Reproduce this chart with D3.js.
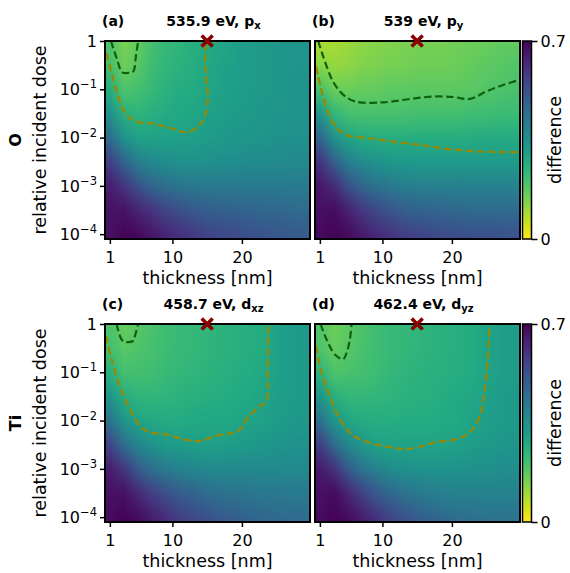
<!DOCTYPE html>
<html><head><meta charset="utf-8">
<script src="https://cdn.jsdelivr.net/npm/d3@7"></script>
<style>body{margin:0;background:#fff}svg{font-family:"DejaVu Sans",sans-serif}</style>
</head><body>
<svg id="chart" width="570" height="573"></svg>
<script>
// ---------- data ----------
const thicknessCenters = [1,3,5,7,9,11,13,15,17,19,21,23,25,27,29];   // nm
const doseExponents = [0,-0.5,-1,-1.5,-2,-2.5,-3,-3.5,-4];            // log10(relative dose)
const xTicks = [1,10,20];
const yTickExps = [0,-1,-2,-3,-4];
const cbTicks = [0,0.7];

const diffA = [
 [.196,.14,.168,.21,.231,.245,.259,.273,.287,.301,.315,.322,.329,.336,.336],
 [.21,.154,.182,.217,.238,.252,.266,.28,.294,.308,.315,.322,.329,.336,.336],
 [.266,.196,.21,.231,.252,.266,.273,.287,.301,.308,.315,.322,.329,.336,.343],
 [.35,.259,.245,.259,.273,.28,.287,.301,.308,.315,.322,.329,.336,.336,.343],
 [.455,.35,.301,.294,.301,.301,.308,.315,.322,.329,.329,.336,.343,.343,.35],
 [.574,.476,.406,.371,.357,.35,.35,.35,.357,.357,.364,.364,.364,.371,.371],
 [.644,.595,.525,.476,.448,.427,.42,.413,.413,.413,.413,.413,.413,.413,.413],
 [.665,.665,.63,.595,.56,.532,.511,.497,.49,.483,.476,.469,.469,.462,.462],
 [.672,.693,.686,.658,.63,.602,.581,.56,.546,.539,.525,.518,.511,.504,.497]
];
const diffB = [
 [.084,.091,.105,.119,.126,.133,.14,.14,.147,.147,.154,.154,.161,.168,.168],
 [.126,.112,.119,.133,.14,.147,.147,.154,.154,.154,.161,.168,.175,.182,.189],
 [.21,.161,.161,.168,.168,.175,.175,.175,.175,.175,.175,.182,.189,.196,.203],
 [.336,.238,.21,.203,.203,.203,.203,.21,.21,.21,.21,.217,.217,.224,.224],
 [.476,.35,.294,.273,.266,.266,.266,.266,.266,.266,.266,.273,.273,.273,.273],
 [.595,.49,.406,.364,.343,.329,.322,.322,.322,.322,.322,.322,.322,.322,.322],
 [.658,.616,.532,.476,.441,.42,.406,.399,.399,.399,.399,.392,.392,.392,.392],
 [.672,.679,.637,.588,.546,.518,.497,.483,.476,.469,.469,.462,.462,.462,.462],
 [.679,.693,.679,.651,.623,.595,.574,.56,.546,.539,.532,.525,.525,.518,.518]
];
const diffC = [
 [.196,.161,.182,.2,.214,.228,.235,.242,.249,.256,.263,.27,.301,.315,.322],
 [.21,.182,.196,.207,.221,.228,.235,.242,.249,.256,.263,.27,.301,.315,.322],
 [.259,.21,.21,.214,.228,.235,.242,.249,.256,.263,.27,.28,.301,.315,.322],
 [.336,.266,.245,.24,.245,.252,.259,.26,.266,.273,.28,.29,.308,.315,.322],
 [.434,.336,.294,.28,.273,.273,.28,.28,.28,.287,.294,.301,.315,.322,.329],
 [.56,.455,.385,.343,.322,.315,.308,.308,.308,.315,.322,.329,.336,.343,.343],
 [.644,.588,.504,.448,.413,.392,.378,.371,.371,.371,.371,.371,.371,.371,.371],
 [.672,.672,.623,.574,.532,.497,.476,.455,.441,.434,.427,.42,.42,.413,.413],
 [.679,.693,.679,.644,.609,.574,.546,.525,.504,.49,.476,.469,.462,.455,.455]
];
const diffD = [
 [.189,.154,.175,.196,.214,.228,.235,.242,.249,.256,.263,.27,.29,.308,.315],
 [.196,.168,.182,.203,.214,.228,.235,.242,.249,.256,.263,.27,.29,.308,.315],
 [.252,.196,.203,.21,.221,.235,.242,.249,.256,.259,.266,.275,.29,.308,.315],
 [.336,.259,.238,.234,.24,.245,.252,.259,.262,.27,.277,.285,.301,.315,.322],
 [.448,.336,.287,.273,.266,.266,.27,.27,.27,.277,.28,.294,.308,.315,.322],
 [.574,.462,.378,.329,.301,.294,.294,.294,.294,.294,.301,.315,.322,.329,.336],
 [.651,.602,.504,.434,.392,.364,.35,.343,.343,.343,.343,.35,.35,.357,.357],
 [.672,.679,.63,.567,.511,.469,.441,.42,.406,.399,.392,.392,.392,.392,.392],
 [.679,.693,.679,.644,.602,.56,.525,.497,.476,.462,.448,.441,.434,.434,.434]
];

// contour lines: [thickness nm, log10 dose]
const greenA = [[1.16,0],[1.96,-0.35],[2.8,-0.65],[3.64,-0.66],[4.36,-0.63],[4.74,-0.32],[5.07,0]];
const oliveA = [[0.52,-0.25],[1.24,-0.66],[2.2,-1.15],[3.4,-1.53],[4.84,-1.67],[7.23,-1.71],[9.64,-1.8],[12.04,-1.89],[13.48,-1.8],[14.53,-1.6],[15.1,-1.22],[14.9,-0.8],[14.7,-0.39],[14.8,0]];
const greenB = [[0.76,0],[1.48,-0.32],[2.9,-0.84],[4.35,-1.11],[6.04,-1.25],[10.1,-1.27],[13.96,-1.2],[17.3,-1.15],[20.2,-1.16],[22.6,-1.2],[25.0,-1.04],[27.4,-0.91],[29.8,-0.8]];
const oliveB = [[0.45,-0.53],[1.1,-0.94],[2.2,-1.49],[3.4,-1.8],[5.07,-1.96],[7.7,-2.01],[12.5,-2.1],[16.4,-2.17],[19.7,-2.24],[24.5,-2.29],[29.8,-2.3]];
const greenC = [[1.96,0],[2.68,-0.32],[3.16,-0.37],[4.36,-0.35],[4.6,-0.25],[5.07,0]];
const oliveC = [[0.45,-0.25],[1.24,-0.73],[2.44,-1.28],[3.88,-1.76],[5.32,-2.11],[6.76,-2.24],[9.16,-2.29],[12.04,-2.4],[13.96,-2.42],[16.36,-2.31],[19.47,-2.21],[20.9,-1.93],[22.6,-1.7],[23.55,-1.59],[23.7,-1.01],[23.8,0]];
const greenD = [[1.1,0],[1.96,-0.32],[3.16,-0.63],[4.36,-0.73],[4.84,-0.6],[5.32,-0.32],[5.56,0]];
const oliveD = [[0.42,-0.46],[1.24,-1.01],[2.44,-1.49],[3.88,-1.97],[5.8,-2.31],[8.2,-2.46],[11.08,-2.55],[13.5,-2.59],[15.9,-2.52],[17.8,-2.44],[20.2,-2.4],[22.6,-2.24],[24.0,-1.9],[24.75,-1.35],[25.2,-0.67],[25.4,0]];

const markerThickness = 15, markerDose = 1;

const panels = [
 {tag:'(a)', energy:'535.9 eV, ', orb:'p', sub:'x', vals:diffA, green:greenA, olive:oliveA, left:105, top:41, row:0, col:0},
 {tag:'(b)', energy:'539 eV, ', orb:'p', sub:'y', vals:diffB, green:greenB, olive:oliveB, left:315, top:41, row:0, col:1},
 {tag:'(c)', energy:'458.7 eV, ', orb:'d', sub:'xz', vals:diffC, green:greenC, olive:oliveC, left:105, top:324, row:1, col:0},
 {tag:'(d)', energy:'462.4 eV, ', orb:'d', sub:'yz', vals:diffD, green:greenD, olive:oliveD, left:315, top:324, row:1, col:1}
];
const rowNames = ['O','Ti'];

// ---------- drawing ----------
const W = 205, H = 198;
const svg = d3.select('#chart');
const color = d3.scaleSequential(d3.interpolateViridis).domain([0.7, 0]);
const defs = svg.append('defs');

function makeImage(vals){
  const cv = document.createElement('canvas');
  cv.width = vals[0].length; cv.height = vals.length;
  const ctx = cv.getContext('2d');
  vals.forEach((row,j)=>row.forEach((v,i)=>{ctx.fillStyle=color(v);ctx.fillRect(i,j,1,1);}));
  return cv.toDataURL();
}

const dt = thicknessCenters[1]-thicknessCenters[0];
const de = doseExponents[0]-doseExponents[1];

panels.forEach((p,k)=>{
  const x = d3.scaleLinear().domain([0.3,29.8]).range([p.left,p.left+W]);
  const y = d3.scaleLog().domain([Math.pow(10,-4.1),1]).range([p.top+H,p.top]);
  const cid = 'clip'+k;
  defs.append('clipPath').attr('id',cid).append('rect')
    .attr('x',p.left).attr('y',p.top).attr('width',W).attr('height',H);
  const g = svg.append('g');
  const x0 = x(thicknessCenters[0]-dt/2), x1 = x(thicknessCenters[thicknessCenters.length-1]+dt/2);
  const y0 = y(Math.pow(10,doseExponents[0]+de/2)), y1 = y(Math.pow(10,doseExponents[doseExponents.length-1]-de/2));
  g.append('image').attr('href',makeImage(p.vals))
    .attr('x',x0).attr('y',y0).attr('width',x1-x0).attr('height',y1-y0)
    .attr('preserveAspectRatio','none').attr('clip-path',`url(#${cid})`);
  const line = d3.line().x(d=>x(d[0])).y(d=>y(Math.pow(10,d[1]))).curve(d3.curveCatmullRom.alpha(0.5));
  g.append('path').attr('d',line(p.olive)).attr('fill','none').attr('stroke','#9a8800')
    .attr('stroke-width',2.2).attr('stroke-dasharray','7.5,3.5').attr('clip-path',`url(#${cid})`);
  g.append('path').attr('d',line(p.green)).attr('fill','none').attr('stroke','#0f600f')
    .attr('stroke-width',2.2).attr('stroke-dasharray','7.5,3.5').attr('clip-path',`url(#${cid})`);
  // x axis
  const ax = g.append('g').attr('transform',`translate(0,${p.top+H})`)
    .call(d3.axisBottom(x).tickValues(xTicks).tickSize(5).tickPadding(8).tickFormat(d3.format('d')));
  ax.select('.domain').remove();
  ax.selectAll('line').attr('stroke-width',1.5);
  ax.selectAll('text').attr('font-size',16).attr('font-family','DejaVu Sans').attr('fill','#000');
  if(p.col===0){
    const ay = g.append('g').attr('transform',`translate(${p.left},0)`)
      .call(d3.axisLeft(y).tickValues(yTickExps.map(e=>Math.pow(10,e))).tickSize(5).tickPadding(3));
    ay.select('.domain').remove();
    ay.selectAll('line').attr('stroke-width',1.5);
    ay.selectAll('text').attr('font-size',16).attr('font-family','DejaVu Sans').attr('fill','#000')
      .each(function(d){
        const t = d3.select(this); t.text(null);
        const e = Math.round(Math.log10(d));
        if(e===0){ t.append('tspan').text('1'); }
        else { t.append('tspan').text('10'); t.append('tspan').attr('dy',-6.5).attr('font-size',11.5).text('\u2212'+(-e)); }
      });
  }
  // spines
  g.append('rect').attr('x',p.left).attr('y',p.top).attr('width',W).attr('height',H)
    .attr('fill','none').attr('stroke','#000').attr('stroke-width',2);
  // marker
  const mx = x(markerThickness), my = y(markerDose), s = 5.5;
  g.append('path').attr('d',`M${mx-s},${my-s}L${mx+s},${my+s}M${mx-s},${my+s}L${mx+s},${my-s}`)
    .attr('stroke','#8b0000').attr('stroke-width',3.6);
  // titles
  g.append('text').attr('x',p.left-3).attr('y',p.top-15).attr('font-size',14).attr('font-weight','bold').text(p.tag);
  const tt = g.append('text').attr('x',p.left+W/2+6).attr('y',p.top-15).attr('text-anchor','middle')
    .attr('font-size',14).attr('font-weight','bold');
  tt.append('tspan').text(p.energy+p.orb);
  tt.append('tspan').attr('dy',3).attr('font-size',10).text(p.sub);
  // x label
  g.append('text').attr('x',p.left+W/2).attr('y',p.top+H+45).attr('text-anchor','middle')
    .attr('font-size',17.5).text('thickness [nm]');
  if(p.col===0){
    const cy = p.top+H/2;
    g.append('text').attr('transform',`translate(46,${cy}) rotate(-90)`).attr('text-anchor','middle')
      .attr('font-size',17.5).text('relative incident dose');
    g.append('text').attr('transform',`translate(21,${cy}) rotate(-90)`).attr('text-anchor','middle')
      .attr('font-size',16).attr('font-weight','bold').text(rowNames[p.row]);
  } else {
    // colorbar
    const cbx = p.left+W+2.5, cbw = 9;
    const gid = 'grad'+k;
    const gr = defs.append('linearGradient').attr('id',gid).attr('x1',0).attr('y1',1).attr('x2',0).attr('y2',0);
    d3.range(0,1.0001,0.05).forEach(f=>gr.append('stop').attr('offset',f).attr('stop-color',color(f*0.7)));
    const yc = d3.scaleLinear().domain([0,0.7]).range([p.top+H,p.top]);
    g.append('rect').attr('x',cbx).attr('y',p.top).attr('width',cbw).attr('height',H).attr('fill',`url(#${gid})`)
      .attr('stroke','#000').attr('stroke-width',1.5);
    const ac = g.append('g').attr('transform',`translate(${cbx+cbw},0)`)
      .call(d3.axisRight(yc).tickValues(cbTicks).tickSize(6).tickPadding(3).tickFormat(d=>d===0?'0':'0.7'));
    ac.select('.domain').remove();
    ac.selectAll('line').attr('stroke-width',1.5);
    ac.selectAll('text').attr('font-size',16).attr('font-family','DejaVu Sans').attr('fill','#000');
    g.append('text').attr('transform',`translate(561,${p.top+H/2}) rotate(-90)`).attr('text-anchor','middle')
      .attr('font-size',17.5).text('difference');
  }
});
</script>
</body></html>
